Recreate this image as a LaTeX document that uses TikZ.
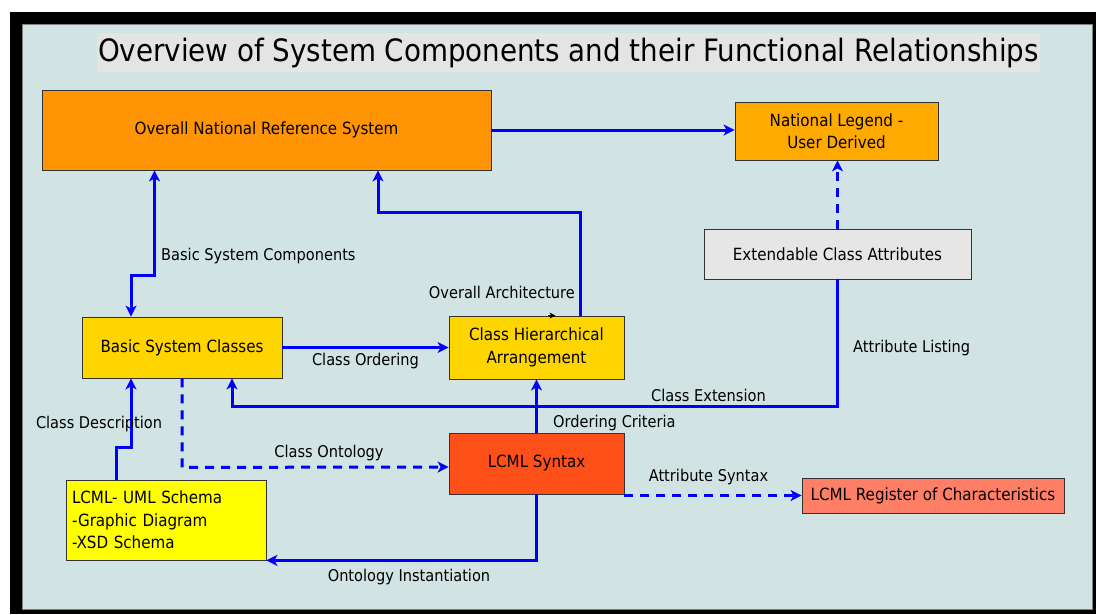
\documentclass[tikz,border=0pt]{standalone}
\usepackage{fontspec}
\setmainfont{DejaVu Sans Condensed}
\usetikzlibrary{arrows.meta}

\definecolor{panelbg}{RGB}{210,227,227}
\definecolor{titlebg}{RGB}{228,228,228}
\definecolor{cNRS}{RGB}{255,148,5}
\definecolor{cLegend}{RGB}{255,170,0}
\definecolor{cGold}{RGB}{255,213,0}
\definecolor{cSyntax}{RGB}{255,80,26}
\definecolor{cRegister}{RGB}{255,126,102}
\definecolor{cUML}{RGB}{255,255,0}
\definecolor{cExt}{RGB}{230,230,230}
\definecolor{linkblue}{RGB}{0,0,255}

\tikzset{
  box/.style={draw=black!80, line width=0.8pt, align=center, inner sep=0pt,
              font=\fontsize{16.8}{22.3}\selectfont},
  conn/.style={draw=linkblue, line width=3pt,
               -{Stealth[length=11pt,width=11pt,inset=3pt]}},
  biconn/.style={draw=linkblue, line width=3pt,
               {Stealth[length=11pt,width=11pt,inset=3pt]}-{Stealth[length=11pt,width=11pt,inset=3pt]}},
  dconn/.style={conn, dash pattern=on 9pt off 7pt},
  lbl/.style={font=\fontsize{16.2}{19}\selectfont, inner sep=0pt},
}

\begin{document}
\begin{tikzpicture}[x=1pt,y=-1pt]
  % page and frame
  \useasboundingbox (0,0) rectangle (1096,614);
  \fill[white] (0,0) rectangle (1096,614);
  \fill[black] (10,12) rectangle (1096,614);
  \fill[panelbg] (22,24) rectangle (1092,609);
  \draw[gray, line width=0.8pt] (22,24) rectangle (1092,609);

  % title
  \node[fill=titlebg, minimum width=943pt, minimum height=39pt, inner sep=0pt,
        font=\fontsize{30.8}{34}\selectfont] (title) at (568.5,52.5)
        {Overview of System Components and their Functional Relationships};

  % components
  \node[box, fill=cNRS, minimum width=449pt, minimum height=80pt] (nrs) at (266.5,130)
        {Overall National Reference System};
  \node[box, fill=cLegend, minimum width=203pt, minimum height=58pt] (legend) at (836.5,131)
        {National Legend -\\User Derived};
  \node[box, fill=cExt, minimum width=267pt, minimum height=50pt] (ext) at (837.5,254)
        {Extendable Class Attributes};
  \node[box, fill=cGold, minimum width=200pt, minimum height=61pt] (bsc) at (182,347.5)
        {Basic System Classes};
  \node[box, fill=cGold, minimum width=175pt, minimum height=63pt] (cha) at (536.5,347.5)
        {Class Hierarchical\\Arrangement};
  \node[box, fill=cSyntax, minimum width=175pt, minimum height=61pt] (syntax) at (536.5,463.5)
        {LCML Syntax};
  \node[box, fill=cRegister, minimum width=262pt, minimum height=35pt] (reg) at (933,495.5)
        {LCML Register of Characteristics};
  \node[box, fill=cUML, minimum width=200pt, minimum height=80pt, align=left,
        text width=188pt] (uml) at (166,520)
        {LCML- UML Schema\\-Graphic Diagram\\-XSD Schema};

  % connectors
  \draw[conn] (nrs.east) -- (nrs.east -| legend.west);
  \draw[biconn] ([xshift=-112pt]nrs.south) -- ++(0,105) -| ([xshift=-51pt]bsc.north);
  \draw[conn] ([xshift=43.5pt]cha.north) -- ++(0,-103) -| ([xshift=111.5pt]nrs.south);
  \draw[conn] (bsc.east) -- (cha.west);
  \draw[conn] (syntax.north) -- (cha.south);
  \draw[conn] (ext.south) -- ++(0,127) -| ([xshift=50pt]bsc.south);
  \draw[dconn] (ext.north) -- (ext.north |- legend.south);
  \draw[dconn] (bsc.south) -- ++(0,89) -- ([yshift=-3.5pt]syntax.west);
  \draw[dconn] (reg.west -| syntax.east) -- (reg.west);
  \draw[conn] (syntax.south) |- (uml.south east);
  \draw[conn] ([xshift=-50pt]uml.north) -- ++(0,-32) -| ([xshift=-51pt]bsc.south);
  \draw[black, line width=0.6pt, -{Stealth[length=6pt,width=6pt]}]
        ([xshift=11pt]cha.north) -- ([xshift=19pt]cha.north);

  % connector labels
  \node[lbl, anchor=west] (lBSC) at (161,256) {Basic System Components};
  \node[lbl, anchor=east] (lOA) at (575,292) {Overall Architecture};
  \node[lbl] (lCO) at (365.5,361) {Class Ordering};
  \node[lbl, anchor=west] (lOC) at (553,423) {Ordering Criteria};
  \node[lbl, anchor=west] (lAL) at (853,348) {Attribute Listing};
  \node[lbl] (lCE) at (708.5,395) {Class Extension};
  \node[lbl] (lCOnt) at (329,453) {Class Ontology};
  \node[lbl] (lAS) at (708.5,477) {Attribute Syntax};
  \node[lbl] (lOI) at (409,577) {Ontology Instantiation};
  \node[lbl] (lCD) at (99,424) {Class Description};
\end{tikzpicture}
\end{document}
